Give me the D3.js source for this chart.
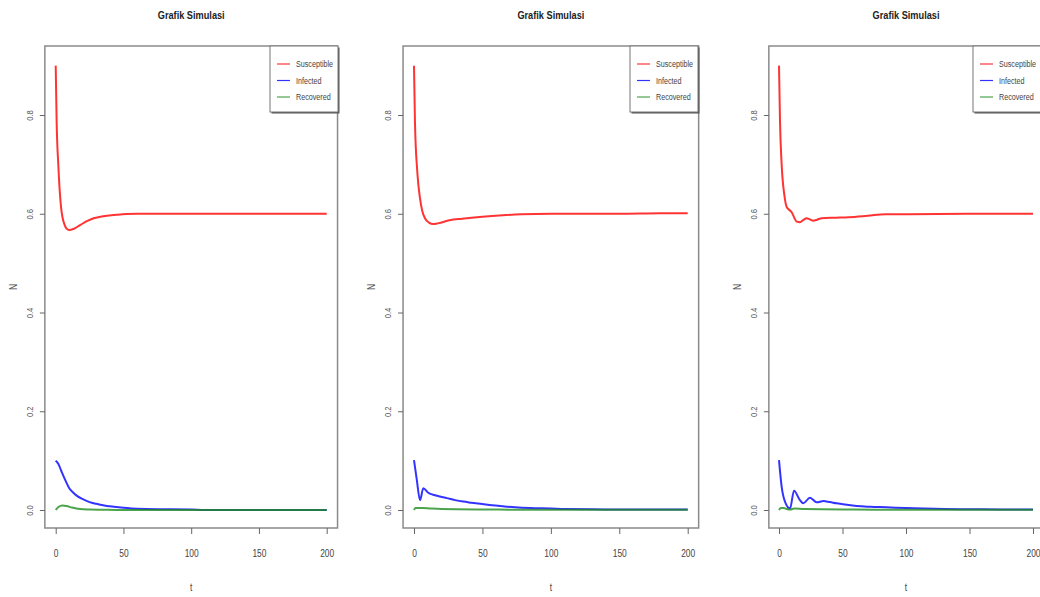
<!DOCTYPE html>
<html><head><meta charset="utf-8">
<script src="https://cdn.jsdelivr.net/npm/d3@7"></script>
<style>
html,body{margin:0;padding:0;background:#fff;}
svg{display:block;}
text{font-family:"Liberation Sans Narrow","Arial Narrow","Liberation Sans",Arial,sans-serif;}
</style></head>
<body>
<svg id="chart" width="1040" height="597"></svg>
<script>
// ---------- data ----------
const titleText = "Grafik Simulasi";
const seriesNames = ["Susceptible", "Infected", "Recovered"];
const seriesColors = ["#ff0000", "#0000ff", "#1e8c1e"];
const xTicks = [0, 50, 100, 150, 200];
const yTicks = [0.0, 0.2, 0.4, 0.6, 0.8];
const xLabel = "t";
const yLabel = "N";

// Panel 1
const p1_tS = [0, 0.7, 2, 3, 4, 5, 6.5, 8, 10, 13, 18, 23, 28, 33, 38, 45, 52, 60, 80, 100, 150, 200];
const p1_S  = [0.9, 0.786, 0.695, 0.645, 0.612, 0.593, 0.578, 0.570, 0.567, 0.569, 0.577, 0.585, 0.591, 0.594, 0.596, 0.598, 0.5995, 0.6, 0.6, 0.6, 0.6, 0.6];
const p1_tI = [0, 2, 4, 6, 8, 10, 13, 16, 20, 25, 30, 35, 40, 50, 60, 80, 100, 110, 150, 200];
const p1_I  = [0.1, 0.093, 0.08, 0.067, 0.055, 0.044, 0.035, 0.028, 0.022, 0.016, 0.0125, 0.0095, 0.0075, 0.0045, 0.0025, 0.0015, 0.001, 0.0002, 0, 0];
const p1_tR = [0, 2, 5, 8, 12, 18, 25, 35, 50, 200];
const p1_R  = [0, 0.006, 0.009, 0.008, 0.005, 0.002, 0.001, 0.0005, 0, 0];

// Panel 2
const p2_tS = [0, 0.7, 2.4, 4.4, 6, 8, 11, 14, 18, 26, 35, 50, 65, 78, 100, 150, 180, 200];
const p2_S  = [0.9, 0.786, 0.685, 0.631, 0.606, 0.591, 0.582, 0.579, 0.581, 0.587, 0.590, 0.594, 0.597, 0.599, 0.6, 0.6, 0.601, 0.601];
const p2_tI = [0, 2, 4.4, 6.8, 10.4, 14, 18, 24, 30, 36, 42, 50, 57, 65, 74, 85, 100, 110, 130, 150, 200];
const p2_I  = [0.101, 0.062, 0.02, 0.044, 0.035, 0.031, 0.028, 0.024, 0.020, 0.017, 0.0148, 0.012, 0.0095, 0.0075, 0.0055, 0.004, 0.003, 0.002, 0.0015, 0.001, 0.0008];
const p2_tR = [0, 1, 6, 12, 20, 55, 80, 200];
const p2_R  = [0, 0.004, 0.004, 0.003, 0.002, 0.001, 0.0005, 0.0003];

// Panel 3
const p3_tS = [0, 0.8, 2.1, 4.2, 6, 8, 10, 12, 14, 16.5, 19, 21.8, 24, 27, 30, 33.6, 45, 55, 70, 84, 100, 150, 200];
const p3_S  = [0.9, 0.786, 0.699, 0.638, 0.614, 0.608, 0.603, 0.592, 0.584, 0.583, 0.587, 0.591, 0.589, 0.586, 0.588, 0.591, 0.592, 0.593, 0.596, 0.599, 0.599, 0.6, 0.6];
const p3_tI = [0, 2.1, 4.7, 8.7, 11.8, 16.5, 19.1, 24.4, 29.7, 35, 40, 45.4, 52, 61.2, 72, 84.8, 100, 115, 130, 150, 175, 200];
const p3_I  = [0.101, 0.047, 0.017, 0.003, 0.039, 0.020, 0.0135, 0.025, 0.0155, 0.018, 0.016, 0.0135, 0.011, 0.008, 0.0065, 0.0055, 0.004, 0.003, 0.0022, 0.0015, 0.001, 0.0008];
const p3_tR = [0, 1.5, 4, 6, 9, 12, 20, 60, 100, 200];
const p3_R  = [0, 0.004, 0.004, 0.002, 0.001, 0.003, 0.002, 0.001, 0.0005, 0.0003];

const panelsData = [
  [[p1_tS, p1_S], [p1_tI, p1_I], [p1_tR, p1_R]],
  [[p2_tS, p2_S], [p2_tI, p2_I], [p2_tR, p2_R]],
  [[p3_tS, p3_S], [p3_tI, p3_I], [p3_tR, p3_R]]
];

// ---------- layout ----------
const layout = [
  {x0: 55.7, x200: 326.7, legendLeft: 270},
  {x0: 414.0, x200: 687.7, legendLeft: 630},
  {x0: 779.0, x200: 1033.0, legendLeft: 973}
];
const boxTop = 46, boxBottom = 528;
const NARROW = 0.8;

const svg = d3.select("#chart");

function ntext(g, x, y, str, size, opts = {}) {
  const t = g.append("text")
    .attr("transform", `translate(${x},${y})${opts.rotate ? " rotate(" + opts.rotate + ")" : ""} scale(${NARROW},1)`)
    .attr("text-anchor", opts.anchor || "middle")
    .attr("dy", opts.dy || "0.35em")
    .attr("font-size", size)
    .attr("fill", opts.fill || "#444")
    .text(str);
  if (opts.bold) t.attr("font-weight", "bold");
  return t;
}

layout.forEach((L, pi) => {
  const x = d3.scaleLinear().domain([0, 200]).range([L.x0, L.x200]);
  const y = d3.scaleLinear().domain([0, 0.8]).range([510, 115]);
  const boxLeft = x(-8), boxRight = x(208);
  const g = svg.append("g");

  // title
  ntext(g, (boxLeft + boxRight) / 2, 15, titleText, 11.5, {bold: true, fill: "#222"});

  // lines
  const line = d3.line().x(d => x(d[0])).y(d => y(d[1])).curve(d3.curveMonotoneX);
  panelsData[pi].forEach((s, si) => {
    const pts = s[0].map((t, i) => [t, s[1][i]]);
    g.append("path").datum(pts)
      .attr("d", line)
      .attr("fill", "none")
      .attr("stroke", seriesColors[si])
      .attr("stroke-width", 2)
      .attr("stroke-opacity", 0.8)
      .attr("stroke-linejoin", "round");
  });

  // box
  g.append("rect")
    .attr("x", boxLeft).attr("y", boxTop)
    .attr("width", boxRight - boxLeft).attr("height", boxBottom - boxTop)
    .attr("fill", "none").attr("stroke", "#8a8a8a").attr("stroke-width", 1.5);

  // x axis
  const xAxis = d3.axisBottom(x).tickValues(xTicks).tickSize(6).tickPadding(9)
    .tickFormat(d3.format("d"));
  const gx = g.append("g").attr("transform", `translate(0,${boxBottom})`).call(xAxis);
  gx.select(".domain").remove();
  gx.selectAll("line").attr("stroke", "#666");
  gx.selectAll("text").attr("font-size", 10.5).attr("fill", "#444")
    .attr("y", null).attr("dy", "0.35em")
    .attr("transform", `translate(0,25) scale(${NARROW},1)`);

  // y axis
  const yAxis = d3.axisLeft(y).tickValues(yTicks).tickSize(5).tickFormat(d3.format(".1f"));
  const gy = g.append("g").attr("transform", `translate(${boxLeft},0)`).call(yAxis);
  gy.select(".domain").remove();
  gy.selectAll("line").attr("stroke", "#666");
  gy.selectAll("text")
    .attr("font-size", 9.5).attr("fill", "#555")
    .attr("x", 0).attr("y", 0).attr("dy", "0.35em")
    .attr("text-anchor", "middle")
    .attr("transform", `translate(-15,0) rotate(-90) scale(${NARROW},1)`);

  // axis titles
  ntext(g, (L.x0 + L.x200) / 2, 587, xLabel, 10.5);
  ntext(g, boxLeft - 32, (boxTop + boxBottom) / 2, yLabel, 10.5, {rotate: -90});

  // legend
  const lg = g.append("g").attr("transform", `translate(${L.legendLeft},${boxTop})`);
  const lw = 68, lh = 66;
  lg.append("rect").attr("x", 1.5).attr("y", 1.5).attr("width", lw).attr("height", lh)
    .attr("fill", "#555");
  lg.append("rect").attr("x", 0).attr("y", 0).attr("width", lw).attr("height", lh)
    .attr("fill", "#fff").attr("stroke", "#777").attr("stroke-width", 1);
  seriesNames.forEach((n, i) => {
    const yy = 18 + i * 16.5;
    lg.append("line").attr("x1", 7).attr("x2", 20).attr("y1", yy).attr("y2", yy)
      .attr("stroke", seriesColors[i]).attr("stroke-width", 1.2).attr("stroke-opacity", 0.8);
    ntext(lg, 26, yy, n, 9, {anchor: "start"});
  });
});
</script>
</body></html>
